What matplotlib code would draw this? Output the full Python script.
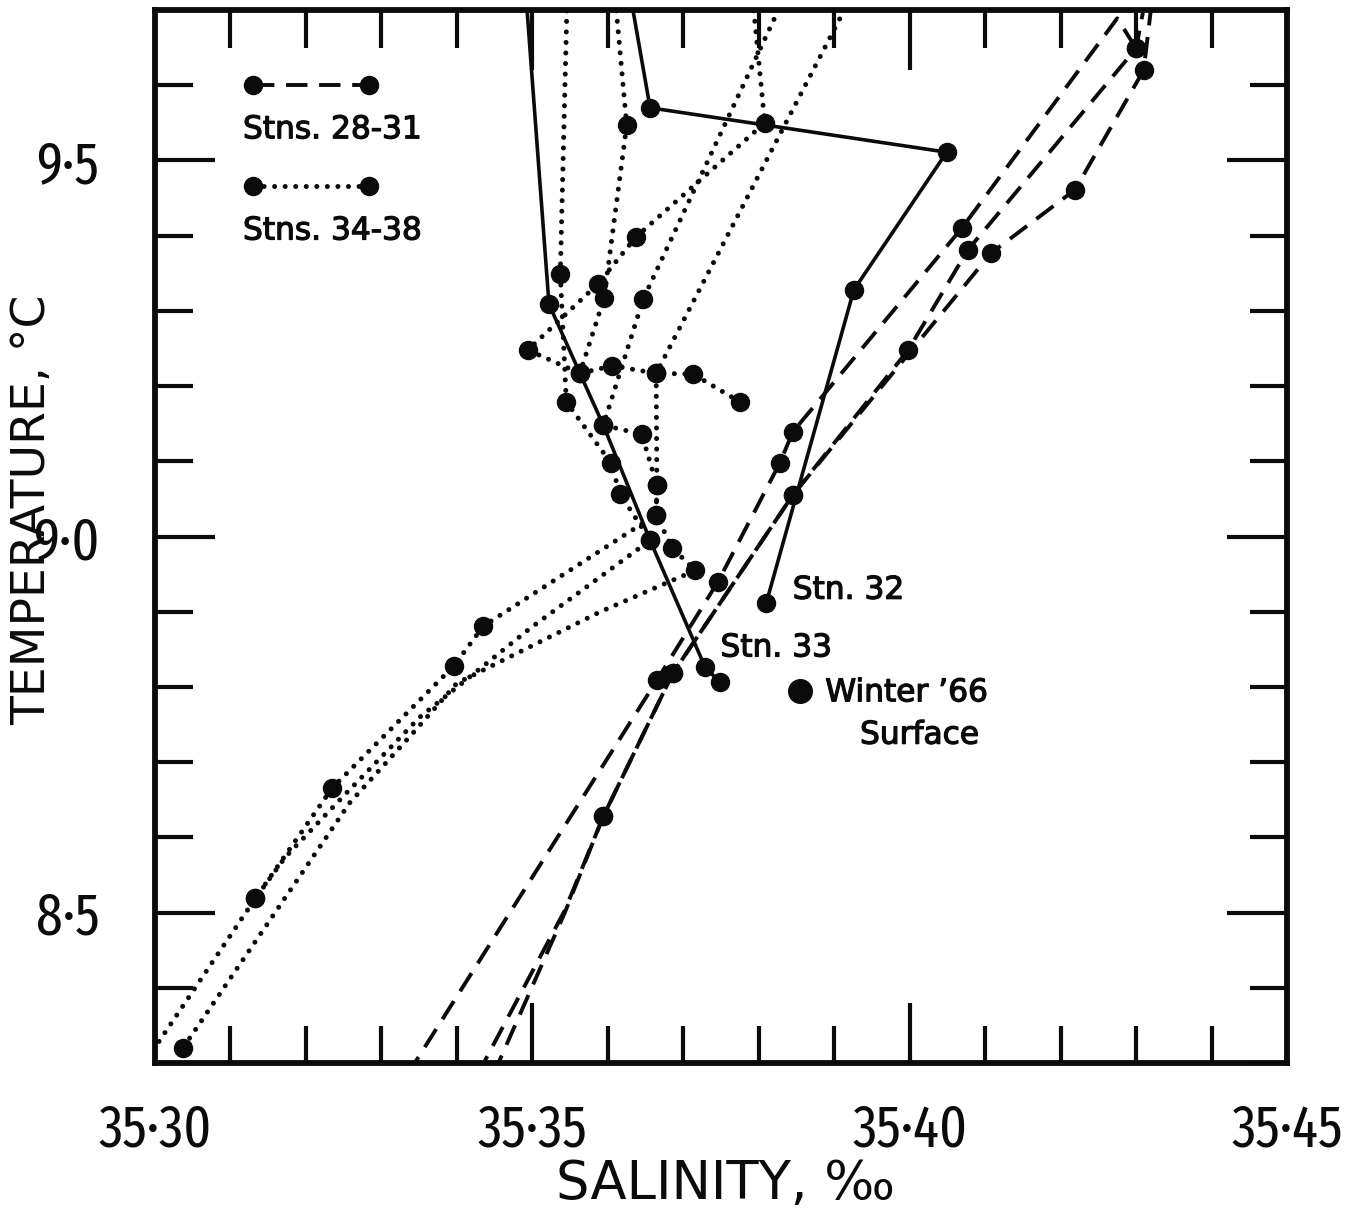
import os
import numpy as np
import matplotlib
matplotlib.use("Agg")
import matplotlib.pyplot as plt
import matplotlib.patheffects as pe
from matplotlib import font_manager
from matplotlib.font_manager import FontProperties
from matplotlib.lines import Line2D
from matplotlib.offsetbox import AnchoredOffsetbox, VPacker, DrawingArea, TextArea

# values: salinity (per mille) and temperature (deg C)
# obs = 1 where a sample dot is drawn, 0 where the curve only bends or leaves the frame

# Stns. 28-31 (dashed)
st28_sal = [35.3334, 35.3665, 35.3746, 35.3828, 35.3845, 35.4069, 35.4275, 35.4300]
st28_tmp = [8.284, 8.809, 8.940, 9.098, 9.139, 9.410, 9.689, 9.649]
st28_obs = [0, 1, 1, 1, 1, 1, 0, 1]

st29_sal = [35.3427, 35.3543, 35.3594, 35.3686, 35.3845, 35.3998, 35.4077, 35.4300, 35.4312]
st29_tmp = [8.284, 8.503, 8.628, 8.818, 9.055, 9.248, 9.381, 9.649, 9.713]
st29_obs = [0, 0, 1, 1, 1, 1, 1, 1, 0]

st30_sal = [35.3448, 35.3543, 35.3594, 35.3686, 35.3845, 35.4108, 35.4219, 35.4310, 35.4321]
st30_tmp = [8.284, 8.500, 8.628, 8.818, 9.055, 9.377, 9.461, 9.620, 9.713]
st30_obs = [0, 0, 1, 1, 1, 1, 1, 1, 0]

# Stns. 34-38 (dotted)
st34_sal = [35.3546, 35.3537, 35.3545, 35.3604, 35.3616, 35.3656, 35.3497, 35.3351, 35.3245, 35.3172, 35.3133]
st34_tmp = [9.713, 9.349, 9.179, 9.098, 9.057, 8.995, 8.878, 8.760, 8.650, 8.573, 8.519]
st34_obs = [0, 1, 1, 1, 1, 1, 0, 0, 0, 0, 1]

st35_sal = [35.3610, 35.3625, 35.3595, 35.3563, 35.3606, 35.3664, 35.3713, 35.3775]
st35_tmp = [9.713, 9.547, 9.317, 9.217, 9.227, 9.217, 9.216, 9.179]
st35_obs = [0, 1, 1, 1, 1, 1, 1, 1]

st36_sal = [35.3792, 35.3808, 35.3637, 35.3587, 35.3494, 35.3563]
st36_tmp = [9.713, 9.550, 9.398, 9.336, 9.248, 9.217]
st36_obs = [0, 1, 1, 1, 1, 1]

st37_sal = [35.3832, 35.3647, 35.3594, 35.3645, 35.3665, 35.3664, 35.3435, 35.3396, 35.3235, 35.3133, 35.2980]
st37_tmp = [9.713, 9.316, 9.148, 9.136, 9.068, 9.029, 8.881, 8.828, 8.666, 8.519, 8.291]
st37_obs = [0, 1, 1, 1, 1, 1, 1, 1, 1, 1, 0]

st38_sal = [35.3920, 35.3664, 35.3665, 35.3664, 35.3685, 35.3716, 35.3590, 35.3400, 35.3342, 35.3258, 35.3037]
st38_tmp = [9.713, 9.217, 9.068, 9.029, 8.985, 8.955, 8.900, 8.805, 8.739, 8.646, 8.320]
st38_obs = [0, 1, 1, 1, 1, 1, 0, 0, 0, 0, 1]

# Stns. 32 and 33 (solid)
st32_sal = [35.3631, 35.3656, 35.4049, 35.3926, 35.3810]
st32_tmp = [9.713, 9.570, 9.511, 9.328, 8.912]
st32_obs = [0, 1, 1, 1, 1]

st33_sal = [35.3492, 35.3522, 35.3563, 35.3594, 35.3656, 35.3729, 35.3749]
st33_tmp = [9.713, 9.309, 9.217, 9.148, 8.995, 8.826, 8.806]
st33_obs = [0, 1, 1, 1, 1, 1, 1]

winter_sal = 35.3855
winter_tmp = 8.795

xticks = [35.30, 35.35, 35.40, 35.45]
xtick_labels = ["35·30", "35·35", "35·40", "35·45"]
yticks = [8.5, 9.0, 9.5]
ytick_labels = ["8·5", "9·0", "9·5"]


# a narrow face for the tall tick numerals, if one is installed
def narrow_font():
    best, best_score = None, 0
    for f in font_manager.fontManager.ttflist:
        fn = os.path.basename(f.fname).lower().replace("-", "").replace("_", "")
        if any(b in fn for b in ("italic", "oblique", "bold", "light", "thin", "black", "semi", "medium", "heavy")):
            continue
        if "extracondensed" in fn or "ultracondensed" in fn:
            score = 3
        elif "condensed" in fn or "narrow" in fn:
            score = 2
        else:
            continue
        if score > best_score:
            best, best_score = f, score
    return best, best_score


nf, nscore = narrow_font()
if nf is not None:
    tick_fp = FontProperties(fname=nf.fname, size=42 if nscore == 3 else 36)
else:
    tick_fp = FontProperties(family="DejaVu Sans", size=27)

INK = "#0b0b0b"
DASH = dict(color=INK, lw=2.8, dashes=(5.5, 3.0), dash_capstyle="butt")
DOT = dict(color=INK, lw=3.6, dashes=(0.01, 2.1), dash_capstyle="round")
SOLID = dict(color=INK, lw=2.6, solid_capstyle="round")
HEAVY = [pe.withStroke(linewidth=0.9, foreground=INK)]

fig = plt.figure(figsize=(13.48, 12.08), dpi=100)
ax = fig.add_axes([0.115, 0.12, 0.8398, 0.8717])


def draw(sal, tmp, obs, style):
    sal = np.asarray(sal)
    tmp = np.asarray(tmp)
    m = np.asarray(obs, bool)
    ax.plot(sal, tmp, zorder=3, **style)
    ax.plot(sal[m], tmp[m], "o", ms=13, color=INK, mec=INK, zorder=4)


for s, t, o in [(st28_sal, st28_tmp, st28_obs), (st29_sal, st29_tmp, st29_obs),
                (st30_sal, st30_tmp, st30_obs)]:
    draw(s, t, o, DASH)
for s, t, o in [(st34_sal, st34_tmp, st34_obs), (st35_sal, st35_tmp, st35_obs),
                (st36_sal, st36_tmp, st36_obs), (st37_sal, st37_tmp, st37_obs),
                (st38_sal, st38_tmp, st38_obs)]:
    draw(s, t, o, DOT)
for s, t, o in [(st32_sal, st32_tmp, st32_obs), (st33_sal, st33_tmp, st33_obs)]:
    draw(s, t, o, SOLID)

ax.plot([winter_sal], [winter_tmp], "o", ms=17, color=INK, zorder=5)

lab = dict(fontsize=22.5, color=INK, family="DejaVu Sans", va="center", ha="left",
           textcoords="offset points", path_effects=HEAVY)
ax.annotate("Stn. 32", (st32_sal[-1], st32_tmp[-1]), xytext=(19, 9), **lab)
ax.annotate("Stn. 33", (st33_sal[-2], st33_tmp[-2]), xytext=(11, 14), **lab)
ax.annotate("Winter ’66", (winter_sal, winter_tmp), xytext=(18, -1.5), **lab)
ax.annotate("Surface", (winter_sal, winter_tmp), xytext=(43, -32), **lab)

ax.set_xlim(35.30, 35.45)
ax.set_ylim(8.30, 9.70)
ax.set_xticks(xticks)
ax.set_xticklabels(xtick_labels)
ax.set_yticks(yticks)
ax.set_yticklabels(ytick_labels)
ax.set_xticks(np.arange(35.30, 35.4501, 0.01), minor=True)
ax.set_yticks(np.arange(8.30, 9.7001, 0.1), minor=True)
ax.tick_params(which="both", direction="in", top=True, right=True, width=3, color=INK)
ax.tick_params(which="major", length=43)
ax.tick_params(which="minor", length=27)
ax.tick_params(axis="x", which="major", pad=28)
ax.tick_params(axis="y", which="major", pad=40)
for lbl in ax.get_xticklabels() + ax.get_yticklabels():
    lbl.set_fontproperties(tick_fp)
    lbl.set_color(INK)
for sp in ax.spines.values():
    sp.set_linewidth(4.2)
    sp.set_color(INK)

ax.set_xlabel("SALINITY, ‰", fontsize=38, family="DejaVu Sans", color=INK)
ax.set_ylabel("TEMPERATURE, °C", fontsize=34, family="DejaVu Sans", color=INK)
ax.xaxis.set_label_coords(0.5035, -0.090)
ax.yaxis.set_label_coords(-0.088, 0.525)


# legend: key line with end dots, label underneath
def key(style):
    da = DrawingArea(100, 14, 0, 0)
    da.add_artist(Line2D([7, 91], [7, 7], marker="o", ms=13, mec=INK, mfc=INK, **style))
    return da


txt = dict(fontsize=22.5, color=INK, family="DejaVu Sans", path_effects=HEAVY)
box = VPacker(children=[
    VPacker(children=[key(DASH), TextArea("Stns. 28-31", textprops=txt)], align="left", pad=0, sep=15),
    VPacker(children=[key(DOT), TextArea("Stns. 34-38", textprops=txt)], align="left", pad=0, sep=15),
], align="left", pad=0, sep=23)
ax.add_artist(AnchoredOffsetbox(loc="upper left", child=box, pad=0, borderpad=0, frameon=False,
                                bbox_to_anchor=(0.0777, 0.9383), bbox_transform=ax.transAxes))

fig.savefig("out.png", dpi=100, facecolor="white")
